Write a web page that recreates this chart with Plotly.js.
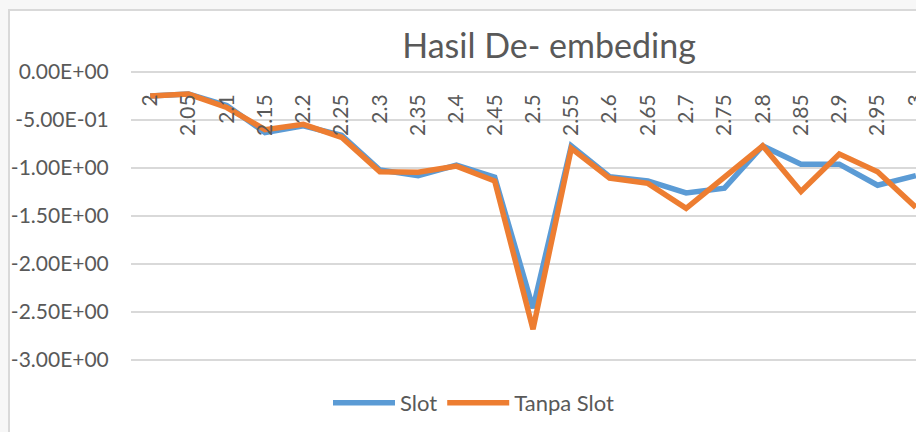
<!DOCTYPE html>
<html>
<head>
<meta charset="utf-8">
<script src="https://cdn.plot.ly/plotly-3.0.1.min.js"></script>
<style>
  html, body { margin: 0; padding: 0; width: 916px; height: 432px; overflow: hidden; background: #f7f7f7; }
  #bg { position: absolute; left: 8px; top: 9px; width: 1000px; height: 500px; background: #ffffff;
        border-left: 2px solid #d9d9d9; border-top: 2px solid #d9d9d9; }
  #chart { position: absolute; left: 0; top: 0; width: 940px; height: 432px; }
</style>
</head>
<body>
<div id="bg"></div>
<div id="chart"></div>
<script>
const categories = ['2','2.05','2.1','2.15','2.2','2.25','2.3','2.35','2.4','2.45','2.5',
                    '2.55','2.6','2.65','2.7','2.75','2.8','2.85','2.9','2.95','3'];
const slot = [-0.25, -0.23, -0.35, -0.63, -0.56, -0.66, -1.02, -1.08, -0.97, -1.095, -2.46,
              -0.77, -1.09, -1.135, -1.26, -1.21, -0.77, -0.96, -0.96, -1.18, -1.08];
const tanpaSlot = [-0.25, -0.23, -0.37, -0.60, -0.545, -0.68, -1.04, -1.045, -0.98, -1.135, -2.68,
                   -0.795, -1.105, -1.16, -1.42, -1.10, -0.77, -1.245, -0.855, -1.04, -1.41];
const yTickVals = [0, -0.5, -1, -1.5, -2, -2.5, -3];
const yTickText = ['0.00E+00', '-5.00E-01', '-1.00E+00', '-1.50E+00', '-2.00E+00', '-2.50E+00', '-3.00E+00'];
const seriesNames = ['Slot', 'Tanpa Slot'];
const titleText = 'Hasil De- embeding';

const FONT = 'Lato, "Open Sans", sans-serif';
const TXT = '#595959';
const W = 940, H = 432;

const traces = [
  { x: categories, y: slot, name: seriesNames[0], type: 'scatter', mode: 'lines',
    line: { color: '#5B9BD5', width: 5.5, shape: 'linear' } },
  { x: categories, y: tanpaSlot, name: seriesNames[1], type: 'scatter', mode: 'lines',
    line: { color: '#ED7D31', width: 5.5, shape: 'linear' } }
];

const layout = {
  width: W, height: H,
  margin: { l: 131, r: 5, t: 70, b: 70, pad: 0 },
  paper_bgcolor: 'rgba(0,0,0,0)',
  plot_bgcolor: 'rgba(0,0,0,0)',
  font: { family: FONT, color: TXT, size: 21 },
  title: { text: titleText, font: { family: FONT, size: 34, color: TXT },
           xref: 'container', x: 549 / W, xanchor: 'center',
           yref: 'container', y: 1 - 46 / H, yanchor: 'middle' },
  showlegend: true,
  legend: { orientation: 'h', xref: 'container', x: 328 / W, xanchor: 'left',
            yref: 'container', y: 1 - 403 / H, yanchor: 'middle', itemwidth: 62,
            font: { family: FONT, size: 22, color: TXT }, bgcolor: 'rgba(0,0,0,0)' },
  xaxis: { type: 'category', anchor: 'free', position: 1, side: 'bottom',
           range: [-0.5, categories.length - 0.5],
           showgrid: false, zeroline: false, showline: false,
           ticks: 'outside', ticklen: 15, tickcolor: 'rgba(0,0,0,0)',
           tickangle: -90, tickfont: { family: FONT, size: 21, color: TXT } },
  yaxis: { range: [-3.0208, 0.0208], tickvals: yTickVals, ticktext: yTickText,
           showgrid: true, gridcolor: '#d9d9d9', gridwidth: 2,
           zeroline: true, zerolinecolor: '#d9d9d9', zerolinewidth: 2,
           showline: false, ticks: 'outside', ticklen: 17, tickcolor: 'rgba(0,0,0,0)',
           tickfont: { family: FONT, size: 21, color: TXT } }
};

Plotly.newPlot('chart', traces, layout, { displayModeBar: false, staticPlot: true });
</script>
</body>
</html>
